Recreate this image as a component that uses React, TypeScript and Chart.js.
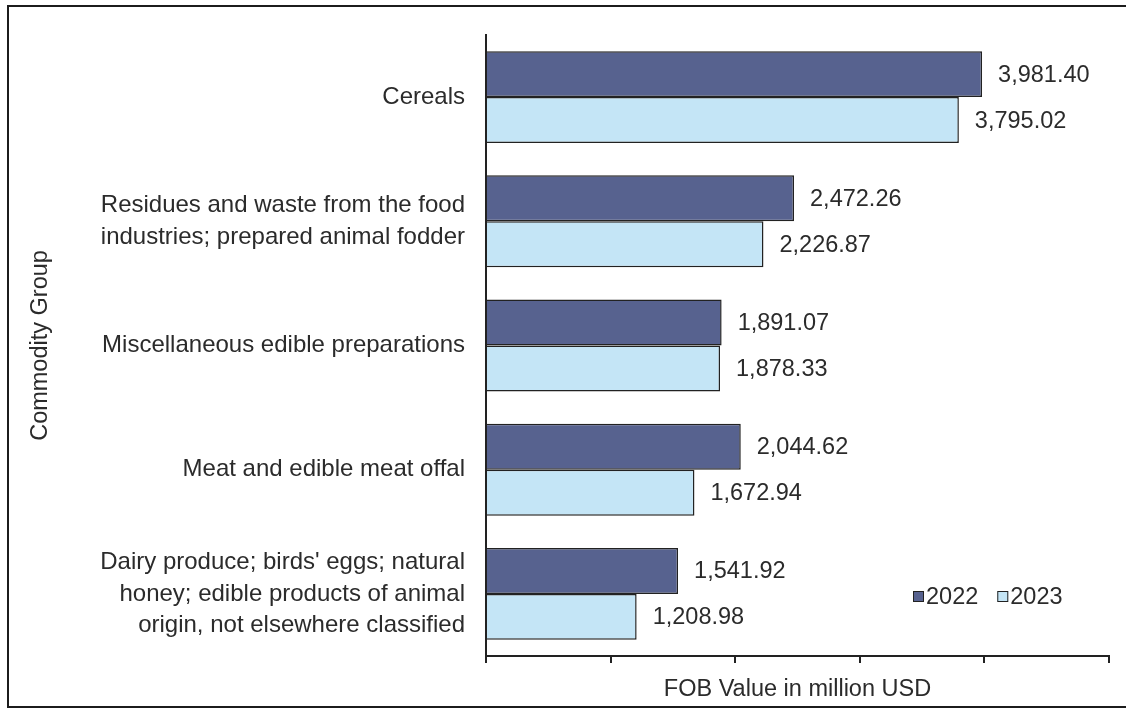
import React, { useEffect, useRef } from "react";
import { Chart, registerables } from "chart.js";

Chart.register(...registerables);

const categories: (string | string[])[] = [
  "Cereals",
  ["Residues and waste from the food", "industries; prepared animal fodder"],
  "Miscellaneous edible preparations",
  "Meat and edible meat offal",
  ["Dairy produce; birds' eggs; natural", "honey; edible products of animal", "origin, not elsewhere classified"],
];
const values2022 = [3981.4, 2472.26, 1891.07, 2044.62, 1541.92];
const values2023 = [3795.02, 2226.87, 1878.33, 1672.94, 1208.98];
const seriesNames = ["2022", "2023"];
const xTickValues = [0, 1000, 2000, 3000, 4000, 5000];

const FONT = "'Liberation Sans', Arial, sans-serif";
const TEXT = "#2b2b2b";
const DARK = "#57628f";
const LIGHT = "#c4e5f6";
const EDGE = "#222222";

const fmt = (v: number) =>
  v.toLocaleString("en-US", { minimumFractionDigits: 2, maximumFractionDigits: 2 });

const valueLabels = {
  id: "valueLabels",
  afterDatasetsDraw(chart: any) {
    const ctx = chart.ctx;
    ctx.save();
    ctx.font = `23.5px ${FONT}`;
    ctx.fillStyle = TEXT;
    ctx.textAlign = "left";
    ctx.textBaseline = "middle";
    chart.data.datasets.forEach((ds: any, i: number) => {
      const meta = chart.getDatasetMeta(i);
      meta.data.forEach((el: any, j: number) => {
        ctx.fillText(fmt(ds.data[j]), el.x + 16, el.y + 1);
      });
    });
    ctx.restore();
  },
};

const innerLegend = {
  id: "innerLegend",
  afterDraw(chart: any) {
    const ctx = chart.ctx;
    const area = chart.chartArea;
    ctx.save();
    ctx.font = `23.5px ${FONT}`;
    ctx.textBaseline = "middle";
    ctx.textAlign = "left";
    let x = area.right - 196;
    const y = area.bottom - 59;
    chart.data.datasets.forEach((ds: any) => {
      ctx.fillStyle = ds.backgroundColor;
      ctx.fillRect(x, y - 6, 11, 11);
      ctx.strokeStyle = EDGE;
      ctx.lineWidth = 1;
      ctx.strokeRect(x + 0.5, y - 5.5, 10, 10);
      ctx.fillStyle = TEXT;
      ctx.fillText(ds.label, x + 13, y + 1);
      x += 13 + ctx.measureText(ds.label).width + 19;
    });
    ctx.restore();
  },
};

export default function App() {
  const ref = useRef<HTMLCanvasElement>(null);
  useEffect(() => {
    const chart = new Chart(ref.current!, {
      type: "bar",
      data: {
        labels: categories,
        datasets: [
          {
            label: seriesNames[0],
            data: values2022,
            backgroundColor: DARK,
            borderColor: EDGE,
            borderWidth: 1.5,
            categoryPercentage: 0.74,
            barPercentage: 1,
          },
          {
            label: seriesNames[1],
            data: values2023,
            backgroundColor: LIGHT,
            borderColor: EDGE,
            borderWidth: 1.5,
            categoryPercentage: 0.74,
            barPercentage: 1,
          },
        ],
      },
      options: {
        indexAxis: "y",
        animation: false,
        responsive: false,
        layout: { padding: { top: 35, right: 17, bottom: 0, left: 0 } },
        plugins: {
          legend: { display: false },
          tooltip: { enabled: false },
        },
        scales: {
          x: {
            min: xTickValues[0],
            max: xTickValues[xTickValues.length - 1],
            afterBuildTicks: (scale: any) => {
              scale.ticks = xTickValues.map((v) => ({ value: v }));
            },
            afterFit: (scale: any) => {
              scale.height = 53;
              scale.paddingLeft = 0;
              scale.paddingRight = 0;
            },
            ticks: { display: false },
            grid: {
              drawOnChartArea: false,
              drawTicks: true,
              tickLength: 7,
              color: EDGE,
              lineWidth: 2,
            },
            border: { display: true, color: EDGE, width: 2 },
            title: {
              display: true,
              text: "FOB Value in million USD",
              color: TEXT,
              font: { family: FONT, size: 23.5 },
              padding: { top: 0, bottom: 5 },
            },
          },
          y: {
            afterFit: (scale: any) => {
              scale.width = 486;
              scale.paddingTop = 0;
              scale.paddingBottom = 0;
            },
            ticks: {
              color: TEXT,
              font: { family: FONT, size: 24, lineHeight: 1.3 },
              padding: 21,
            },
            grid: { display: false, drawTicks: false },
            border: { display: true, color: EDGE, width: 2 },
            title: {
              display: true,
              text: "Commodity Group",
              color: TEXT,
              font: { family: FONT, size: 23.5 },
              padding: { top: 26, bottom: 0 },
            },
          },
        },
      },
      plugins: [valueLabels, innerLegend],
    });
    return () => chart.destroy();
  }, []);

  return (
    <div style={{ position: "fixed", left: 0, top: 0, width: 1126, height: 709, background: "#fff", overflow: "hidden" }}>
      <div
        style={{
          position: "absolute",
          left: 7,
          top: 5,
          width: 1135,
          height: 703,
          border: "2px solid #1c1c1c",
          boxSizing: "border-box",
        }}
      />
      <canvas ref={ref} width={1126} height={709} style={{ position: "absolute", left: 0, top: 0 }} />
    </div>
  );
}
